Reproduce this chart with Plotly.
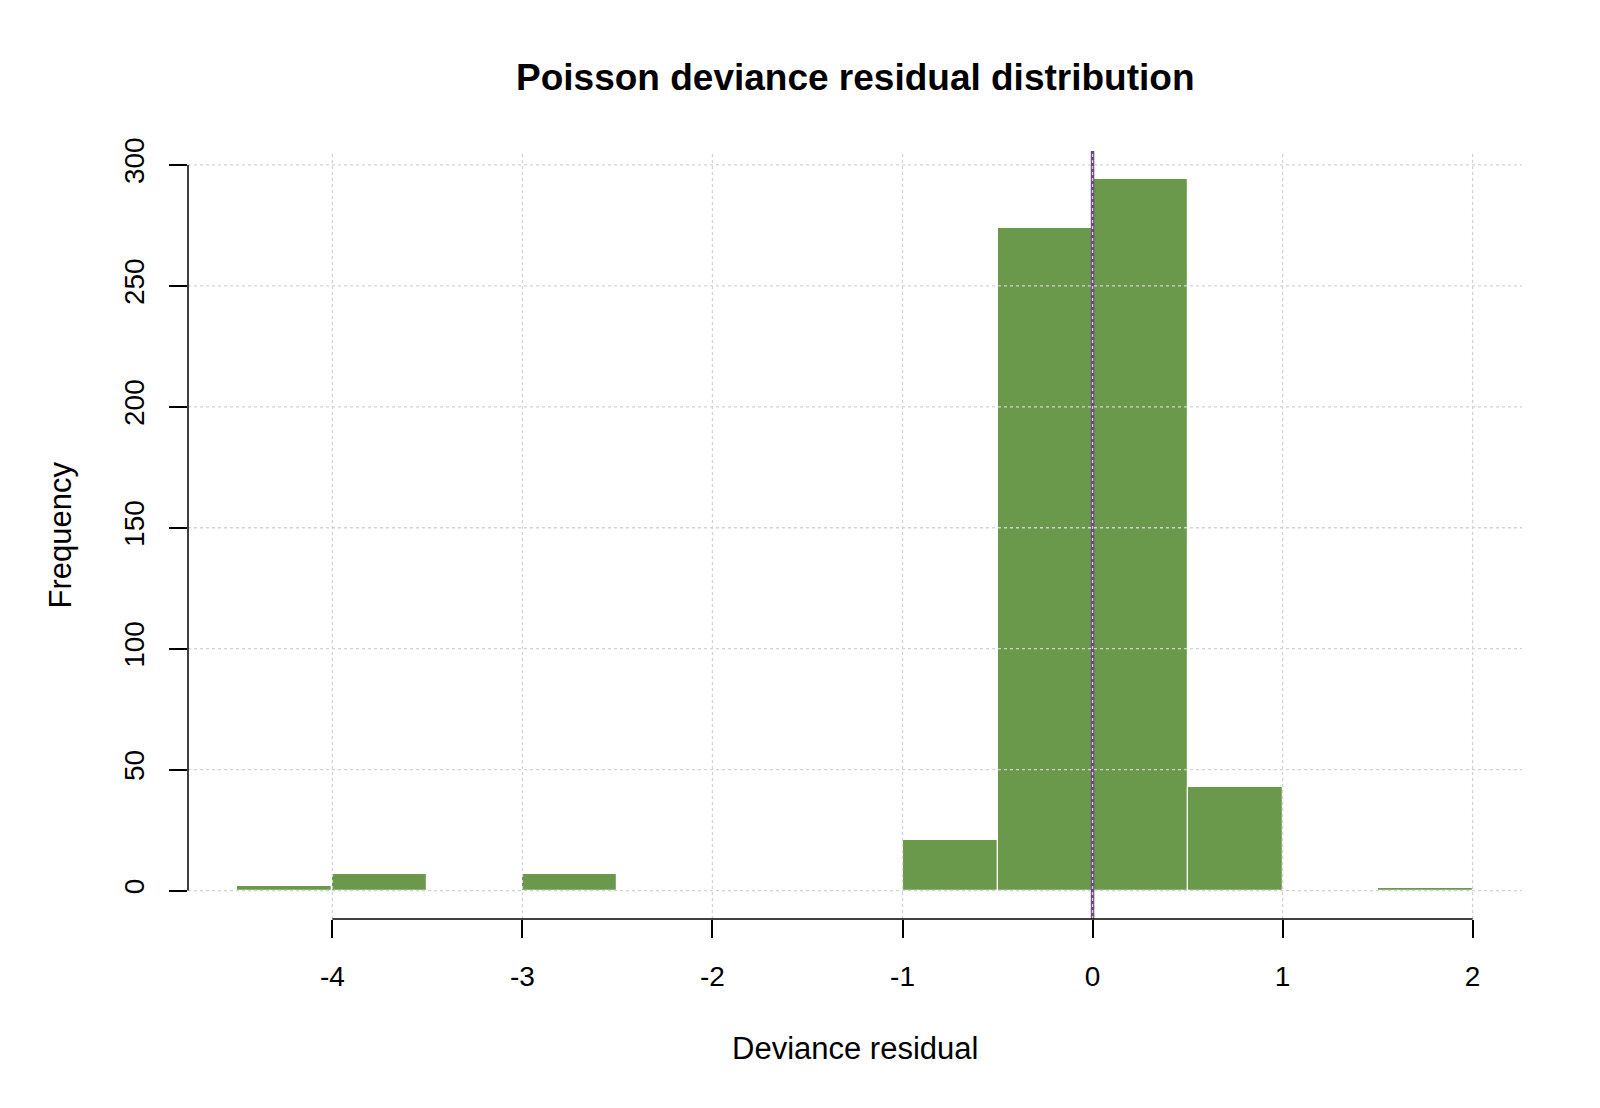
import plotly.graph_objects as go

# Data: histogram of Poisson deviance residuals (bin width 0.5)
bin_left = [-4.5, -4.0, -3.5, -3.0, -2.5, -2.0, -1.5, -1.0, -0.5, 0.0, 0.5, 1.0, 1.5]
counts   = [2,    7,    0,    7,    0,    0,    0,    21,   274,  294,  43,   0,   1]
bin_width = 0.5
x_ticks = [-4, -3, -2, -1, 0, 1, 2]
y_ticks = [0, 50, 100, 150, 200, 250, 300]
ref_line_x = 0

title_text = "Poisson deviance residual distribution"
x_label = "Deviance residual"
y_label = "Frequency"

FONT = "Liberation Sans, Arial, sans-serif"
BAR_COLOR = "#6A994C"
GRID_COLOR = "#D3D3D3"
LINE_COLOR = "#6E4A80"

centers = [b + bin_width / 2 for b in bin_left]

fig = go.Figure()
fig.add_trace(go.Bar(
    x=centers, y=counts, width=bin_width,
    marker=dict(color=BAR_COLOR, line=dict(color="white", width=1.2)),
    hoverinfo="x+y", showlegend=False,
))

xmin, xmax = -4.76, 2.26
ymin, ymax = -11.76, 305.76

shapes = []
# reference line at 0 (drawn before grid so dotted grid overlays it)
shapes.append(dict(type="line", xref="x", yref="paper", x0=ref_line_x, x1=ref_line_x, y0=0, y1=1,
                   line=dict(color=LINE_COLOR, width=3.5), layer="above"))
# grid (drawn over bars like R's grid())
for xv in x_ticks:
    shapes.append(dict(type="line", xref="x", yref="paper", x0=xv, x1=xv, y0=0, y1=1,
                       line=dict(color=GRID_COLOR, width=1.3, dash="dot"), layer="above"))
for yv in y_ticks:
    shapes.append(dict(type="line", xref="paper", yref="y", x0=0, x1=1, y0=yv, y1=yv,
                       line=dict(color=GRID_COLOR, width=1.3, dash="dot"), layer="above"))
# axis lines (R style, only spanning the tick range)
shapes.append(dict(type="line", xref="x", yref="paper", x0=x_ticks[0], x1=x_ticks[-1], y0=0, y1=0,
                   line=dict(color="black", width=1.5), layer="above"))
shapes.append(dict(type="line", xref="paper", yref="y", x0=0, x1=0, y0=y_ticks[0], y1=y_ticks[-1],
                   line=dict(color="black", width=1.5), layer="above"))

annotations = [
    dict(text="<b>" + title_text + "</b>", xref="paper", yref="paper", x=0.5, y=1.0961,
         xanchor="center", yanchor="middle", showarrow=False,
         font=dict(family=FONT, size=37, color="black")),
    dict(text=x_label, xref="paper", yref="paper", x=0.5, y=-0.169,
         xanchor="center", yanchor="middle", showarrow=False,
         font=dict(family=FONT, size=31, color="black")),
    dict(text=y_label, xref="paper", yref="paper", x=-0.0956, y=0.5, textangle=-90,
         xanchor="center", yanchor="middle", showarrow=False,
         font=dict(family=FONT, size=31, color="black")),
]

fig.update_layout(
    width=1600, height=1108,
    margin=dict(l=188, r=78, t=151, b=189),
    paper_bgcolor="white", plot_bgcolor="white",
    bargap=0,
    shapes=shapes, annotations=annotations,
    font=dict(family=FONT, color="black"),
    xaxis=dict(range=[xmin, xmax], tickvals=x_ticks, ticktext=[str(v) for v in x_ticks],
               ticks="outside", ticklen=18, tickwidth=1.5, tickcolor="black",
               showgrid=False, zeroline=False, showline=False,
               tickfont=dict(family=FONT, size=28, color="black"), ticklabelstandoff=14),
    yaxis=dict(range=[ymin, ymax], tickvals=y_ticks, ticktext=[str(v) for v in y_ticks],
               ticks="outside", ticklen=18, tickwidth=1.5, tickcolor="black", tickangle=-90,
               showgrid=False, zeroline=False, showline=False,
               tickfont=dict(family=FONT, size=28, color="black"), ticklabelstandoff=14),
)

fig.write_html("out.html")
